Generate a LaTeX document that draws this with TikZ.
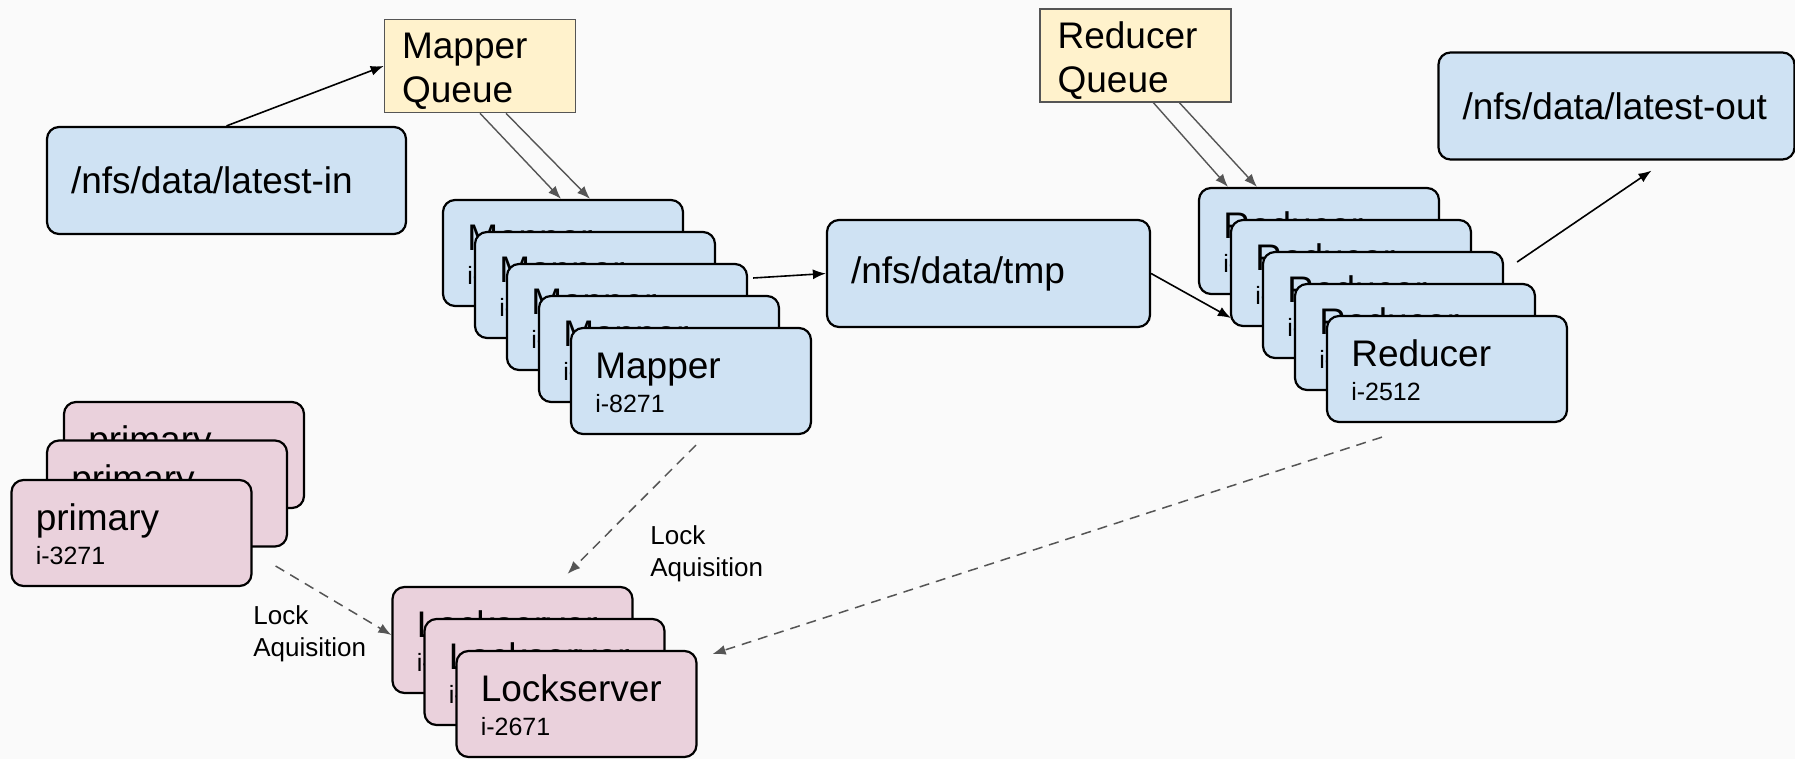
\documentclass[tikz,border=0pt]{standalone}
\usepackage{fontspec}
\setmainfont{Liberation Sans}
\usetikzlibrary{arrows.meta}
\definecolor{bluebox}{HTML}{CFE2F3}
\definecolor{pinkbox}{HTML}{EAD1DC}
\definecolor{queuebox}{HTML}{FFF2CC}
\definecolor{canvas}{HTML}{FAFAFA}
\definecolor{linegray}{HTML}{555555}
\begin{document}
\begin{tikzpicture}[x=0.5pt, y=-0.5pt,
  box/.style={draw=black, line width=1.1pt, rounded corners=6pt, inner sep=0pt},
  inst/.style={box, minimum width=120pt, minimum height=53pt},
  dir/.style={box, fill=bluebox, minimum height=53.5pt, inner xsep=12pt, align=left, font=\fontsize{18.5}{21.5}\selectfont},
  queue/.style={draw=linegray, line width=0.8pt, fill=queuebox, minimum width=95.5pt, minimum height=46.5pt, inner sep=0pt},
  qtext/.style={anchor=west, inner sep=0pt, align=left, font=\fontsize{18.5}{22}\selectfont},
  title/.style={anchor=base west, inner sep=0pt, font=\fontsize{18.5}{21.5}\selectfont},
  ident/.style={anchor=base west, inner sep=0pt, font=\fontsize{12.5}{15}\selectfont},
  note/.style={anchor=west, inner sep=0pt, align=left, font=\fontsize{13}{16}\selectfont},
  flow/.style={-{Latex[length=6.5pt, width=5pt]}, line width=0.8pt},
  feed/.style={flow, draw=linegray, line width=0.7pt},
  lock/.style={flow, draw=linegray, line width=0.75pt, dash pattern=on 5pt off 3.5pt},
]
  \fill[canvas] (0,0) rectangle (1795,759);
  \useasboundingbox (0,0) rectangle (1795,759);

  % queues and data directories
  \node[queue] (mq) at (480,66) {};
  \node[qtext] (mq-t) at ([shift={(18,5)}]mq.west) {Mapper\\Queue};
  \node[queue] (rq) at (1135.5,55.5) {};
  \node[qtext] (rq-t) at ([shift={(18,5)}]rq.west) {Reducer\\Queue};
  \node[dir, text width=155.5pt] (lin) at (226.5,180.5) {/nfs/data/latest-in};
  \node[dir, text width=137.5pt] (tmp) at (988.5,273.5) {/nfs/data/tmp};
  \node[dir, text width=154pt] (lout) at (1616.5,106) {/nfs/data/latest-out};

  % stacked instances, back to front
  \foreach \i in {1,...,5} {
    \node[inst, fill=bluebox] (m\i) at ({563+32*(\i-1)}, {253+32*(\i-1)}) {};
    \node[title] (m\i-t) at ([shift={(25,52)}]m\i.north west) {Mapper};
    \node[ident] (m\i-id) at ([shift={(25,86)}]m\i.north west) {i-8271};
  }
  \foreach \i in {1,...,5} {
    \node[inst, fill=bluebox] (r\i) at ({1319+32*(\i-1)}, {241+32*(\i-1)}) {};
    \node[title] (r\i-t) at ([shift={(25,52)}]r\i.north west) {Reducer};
    \node[ident] (r\i-id) at ([shift={(25,86)}]r\i.north west) {i-2512};
  }
  \foreach \i/\x/\y in {1/184/455, 2/167/493.5, 3/131.5/533} {
    \node[inst, fill=pinkbox] (p\i) at (\x,\y) {};
    \node[title] (p\i-t) at ([shift={(25,52)}]p\i.north west) {primary};
    \node[ident] (p\i-id) at ([shift={(25,86)}]p\i.north west) {i-3271};
  }
  \foreach \i in {1,...,3} {
    \node[inst, fill=pinkbox] (l\i) at ({512.5+32*(\i-1)}, {640+32*(\i-1)}) {};
    \node[title] (l\i-t) at ([shift={(25,52)}]l\i.north west) {Lockserver};
    \node[ident] (l\i-id) at ([shift={(25,86)}]l\i.north west) {i-2671};
  }

  % data flow
  \draw[flow] (lin.north) -- (mq.west);
  \draw[feed] (mq.south) -- ([xshift=-1pt]m1.north);
  \draw[feed] ([xshift=13pt]mq.south) -- ([xshift=13.5pt]m1.north);
  \draw[flow] ([shift={(5,-39)}]m3.east) -- (tmp.west);
  \draw[flow] (tmp.east) -- ([shift={(1,45)}]r2.west);
  \draw[feed] ([xshift=9pt]rq.south) -- ([xshift=-45.5pt]r1.north);
  \draw[feed] ([xshift=22pt]rq.south) -- ([xshift=-31pt]r1.north);
  \draw[flow] ([shift={(13,-43)}]r3.east) -- ([shift={(35,10)}]lout.south);

  % lock traffic
  \draw[lock] ([shift={(5,10)}]m5.south) -- ([shift={(55,-12)}]l1.north);
  \draw[lock] ([shift={(23,33)}]p3.east) -- ([shift={(0,-5)}]l1.west);
  \draw[lock] ([shift={(-65,14)}]r5.south) -- ([shift={(15,-50)}]l3.east);
  \node[note] (ml) at (650,554) {Lock\\Aquisition};
  \node[note] (pl) at (253,634) {Lock\\Aquisition};
\end{tikzpicture}
\end{document}
